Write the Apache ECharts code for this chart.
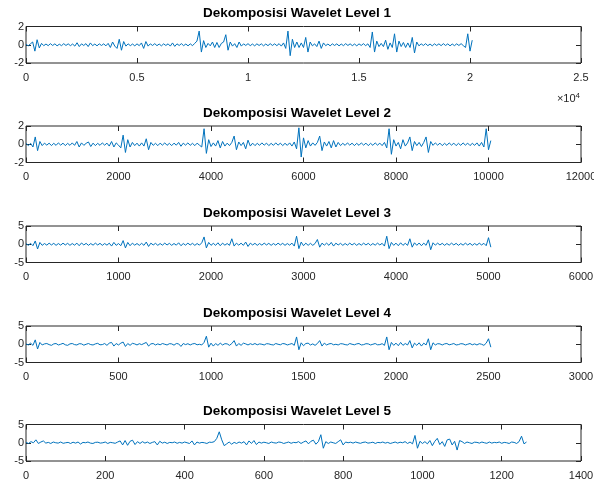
<!DOCTYPE html>
<html><head><meta charset="utf-8">
<script src="https://cdn.jsdelivr.net/npm/echarts@6/dist/echarts.min.js"></script>
<style>html,body{margin:0;padding:0;background:#fff}#c{width:594px;height:483px}</style>
</head><body><div id="c"></div>
<script>
// ---- data ----
const titles = ['Dekomposisi Wavelet Level 1','Dekomposisi Wavelet Level 2','Dekomposisi Wavelet Level 3','Dekomposisi Wavelet Level 4','Dekomposisi Wavelet Level 5'];
const sampleStep = [100, 50, 25, 12.5, 6.25];
const xMax = [25000, 12000, 6000, 3000, 1400];
const xInterval = [5000, 2000, 1000, 500, 200];
const yLimit = [2, 2, 5, 5, 5];
const xExponentLabel = '×10';
const xExponent = '4';

const level1 = [
0.05,-0.12,0.1,0.3,-0.7,0.55,-0.35,0.15,-0.1,0.08,
-0.1,0.12,-0.08,0.1,-0.12,0.06,-0.1,0.12,-0.08,0.1,
-0.1,0.08,-0.15,0.22,-0.2,0.1,-0.08,0.12,-0.2,0.2,
-0.1,0.08,-0.12,0.1,-0.08,0.1,-0.12,0.15,-0.3,0.3,
-0.15,-0.4,0.6,-0.6,0.35,-0.15,0.1,-0.1,0.08,-0.12,
0.1,-0.1,0.2,-0.4,0.35,-0.15,0.1,-0.08,0.12,-0.1,
0.08,-0.12,0.1,-0.08,0.1,-0.15,0.2,-0.18,0.1,-0.08,
0.12,-0.1,0.08,-0.12,0.1,-0.1,0.15,0.4,1.5,-0.8,
0.45,-0.3,0.15,-0.12,0.3,-0.3,0.25,-0.3,0.15,0.3,
1.1,-0.6,0.3,-0.15,0.12,-0.3,0.3,-0.15,0.1,-0.08,
0.12,-0.1,0.08,-0.12,0.1,-0.08,0.1,-0.12,0.08,-0.1,
0.12,-0.08,0.1,-0.1,0.12,-0.15,0.2,-0.4,1.5,-1.2,
0.6,-0.3,0.3,-0.3,0.2,-0.3,0.8,-0.8,0.3,-0.12,
0.1,-0.2,0.4,-0.4,0.2,-0.1,0.08,-0.12,0.1,-0.08,
0.1,-0.12,0.08,-0.1,0.12,-0.08,0.1,-0.1,0.08,-0.12,
0.1,-0.08,0.12,-0.1,0.1,-0.3,1.4,-0.8,0.4,-0.2,
0.15,-0.2,0.5,-0.5,0.2,-0.3,1.2,-0.8,0.4,-0.2,
0.25,-0.3,0.2,-0.3,0.8,-0.9,0.3,-0.12,0.1,-0.08,
0.12,-0.1,0.08,-0.12,0.1,-0.08,0.1,-0.1,0.12,-0.08,
0.1,-0.12,0.08,-0.1,0.1,-0.08,0.12,-0.1,-0.3,1.2,
-0.7,0.5];

const level2 = [
0.1,-0.15,0.1,-0.3,0.8,-0.7,0.3,-0.15,0.12,-0.1,
0.12,-0.15,0.1,-0.12,0.15,-0.1,0.12,-0.15,0.1,-0.12,
0.15,-0.12,0.3,-0.3,0.15,-0.12,0.1,0.25,-0.25,0.12,
-0.15,0.1,-0.12,0.15,-0.1,0.12,-0.2,0.3,-0.3,0.15,
-0.1,-0.4,1.0,-0.9,0.5,-0.3,0.2,-0.15,0.12,-0.2,
0.15,-0.2,0.6,-0.6,0.2,-0.12,0.1,-0.15,0.12,-0.1,
0.15,-0.12,0.1,-0.15,0.12,-0.1,0.2,-0.22,0.12,-0.1,
0.15,-0.12,0.1,-0.15,0.12,-0.1,-0.3,1.7,-1.0,0.5,
-0.25,0.15,-0.2,0.4,-0.4,0.3,-0.2,0.12,-0.15,0.2,
0.9,-0.6,0.25,-0.15,0.2,-0.5,0.45,-0.2,0.12,-0.15,
0.1,-0.12,0.15,-0.1,0.12,-0.15,0.1,-0.12,0.15,-0.1,
0.12,-0.15,0.1,-0.12,0.15,-0.2,0.25,-0.5,1.8,-1.4,
0.7,-0.4,0.4,-0.2,0.15,-0.12,0.2,0.9,-0.7,0.25,
-0.2,0.3,-0.4,0.4,-0.3,0.2,-0.15,0.1,-0.12,0.15,
-0.1,0.12,-0.15,0.1,-0.12,0.15,-0.1,0.12,-0.15,0.1,
-0.12,0.15,-0.1,0.12,-0.15,0.2,-0.4,1.7,-1.1,0.5,
-0.2,0.2,-0.5,0.5,-0.2,0.15,0.8,-0.7,0.3,-0.15,
0.2,-0.25,0.2,0.8,-0.9,0.3,-0.12,0.15,-0.1,0.12,
-0.15,0.1,-0.12,0.15,-0.1,0.12,-0.15,0.1,-0.12,0.15,
-0.1,0.12,-0.15,0.1,-0.12,0.15,-0.2,0.2,-0.3,1.7,
-0.6,0.4];

const level3 = [
0.2,-0.3,0.25,-0.4,0.9,-1.3,0.5,-0.3,0.2,-0.25,
0.3,-0.2,0.25,-0.3,0.2,-0.25,0.3,-0.2,0.25,-0.3,
0.2,-0.25,0.3,-0.4,0.35,-0.2,0.25,-0.3,0.2,-0.25,
0.3,-0.2,0.25,-0.3,0.2,-0.25,0.3,-0.5,0.5,-0.3,
0.2,-0.4,1.0,-1.0,0.5,-0.4,0.3,-0.25,0.2,-0.3,
0.25,-0.3,0.6,-0.6,0.3,-0.2,0.25,-0.3,0.2,-0.25,
0.3,-0.2,0.25,-0.3,0.2,-0.25,0.4,-0.4,0.2,-0.25,
0.3,-0.2,0.25,-0.3,0.2,-0.25,0.4,2.0,-1.0,0.5,
-0.3,0.25,-0.3,0.4,-0.4,0.3,-0.25,0.2,-0.3,1.5,
-0.5,0.3,-0.25,0.3,-0.3,0.6,-0.6,0.3,-0.2,0.25,
-0.3,0.2,-0.25,0.3,-0.2,0.25,-0.3,0.2,-0.25,0.3,
-0.2,0.25,-0.3,0.2,-0.25,0.3,-0.5,2.2,-1.2,0.6,
-0.4,0.3,-0.3,0.25,-0.3,0.2,1.3,-0.8,0.3,-0.25,
0.3,-0.3,0.5,-0.5,0.3,-0.2,0.25,-0.3,0.2,-0.25,
0.3,-0.2,0.25,-0.3,0.2,-0.25,0.3,-0.2,0.25,-0.3,
0.2,-0.25,0.3,-0.2,0.25,-0.5,2.2,-1.2,0.5,-0.3,
0.3,-0.4,0.4,-0.3,0.25,-0.3,1.5,-0.8,0.4,-0.3,
0.35,-0.4,0.3,-0.3,1.2,-1.5,0.4,-0.25,0.3,-0.2,
0.25,-0.3,0.2,-0.25,0.3,-0.2,0.25,-0.3,0.2,-0.25,
0.3,-0.2,0.25,-0.3,0.2,-0.25,0.3,-0.2,0.25,-0.4,
1.8,-0.8];

const level4 = [
0.1,-0.2,0.3,-0.3,1.2,-1.3,0.5,-0.2,0.1,0.2,
-0.1,-0.3,0.1,0.2,-0.2,0.0,0.25,-0.15,-0.3,0.1,
0.2,-0.1,-0.2,0.15,0.1,-0.25,0.0,0.2,-0.1,-0.2,
0.1,0.25,-0.15,-0.1,0.2,-0.3,0.3,0.5,-0.5,0.2,
-0.2,0.3,0.6,-0.6,0.2,-0.3,0.25,0.1,-0.2,0.15,
-0.1,0.2,0.5,-0.5,0.1,0.2,-0.2,0.1,-0.15,0.2,
0.0,-0.2,0.15,0.1,-0.25,0.2,0.1,-0.6,0.2,-0.1,
0.15,-0.2,0.1,0.2,-0.15,0.0,-0.2,0.5,2.2,-0.8,
0.3,-0.5,0.2,-0.3,0.3,-0.2,0.15,0.1,-0.3,0.2,
1.0,-0.5,0.2,-0.3,0.3,0.1,-0.2,0.15,-0.1,0.2,
-0.15,0.1,0.0,-0.2,0.15,0.1,-0.1,-0.2,0.2,0.0,
-0.15,0.2,0.1,-0.2,0.0,0.2,-0.3,2.0,-1.5,0.4,
-0.4,0.2,0.3,-0.2,0.1,-0.3,0.2,1.0,-0.5,0.3,
-0.2,0.1,0.2,-0.15,0.0,-0.2,0.15,0.1,-0.1,-0.2,
0.2,0.0,-0.15,0.1,0.2,-0.2,-0.1,0.15,0.1,-0.2,
0.0,0.2,-0.15,-0.1,0.15,-0.3,2.0,-1.5,0.5,-0.3,
0.3,-0.4,0.5,-0.3,0.2,-0.2,1.0,-1.0,0.3,-0.3,
0.4,-0.5,0.3,-0.2,1.5,-1.5,0.4,-0.2,0.15,0.1,
-0.2,0.1,0.2,-0.15,0.0,0.2,-0.2,-0.1,0.15,0.1,
-0.2,0.0,0.2,-0.15,0.1,-0.2,0.15,0.0,-0.3,0.3,
1.5,-0.8];

const level5 = [
0.1,-0.2,0.3,0.0,0.8,-0.2,0.2,0.5,-0.1,0.1,
-0.2,0.2,0.0,-0.1,0.2,-0.15,0.0,0.1,-0.2,0.15,
-0.1,0.2,-0.35,0.1,0.0,0.2,-0.1,-0.2,0.1,0.15,
-0.1,0.0,0.2,-0.2,0.1,0.0,-0.15,0.2,0.5,-0.6,
0.6,-0.7,0.4,0.7,-0.5,0.3,-0.2,0.3,-0.1,0.2,
-0.2,0.1,0.3,-0.6,0.4,-0.1,0.15,-0.2,0.1,0.0,
0.2,-0.15,0.1,-0.1,0.2,0.0,-0.2,0.5,-0.6,0.2,
-0.1,0.1,0.0,-0.2,0.15,0.1,0.3,1.2,3.0,0.8,
-0.8,-0.3,0.2,-0.4,0.1,-0.2,0.2,-0.1,0.3,-0.6,
0.5,-0.2,0.6,-0.5,0.2,-0.1,0.15,0.0,-0.2,0.2,
0.0,-0.1,0.2,0.1,-0.2,0.0,0.2,-0.15,0.1,0.0,
0.3,-0.2,0.2,0.5,-0.3,0.4,0.7,-0.4,0.3,2.2,
-1.5,0.3,-0.2,0.2,0.0,-0.2,0.3,0.8,-0.6,0.2,
0.0,0.15,-0.1,0.2,0.0,-0.15,0.1,0.2,-0.1,0.0,
0.15,-0.2,0.1,0.0,0.2,-0.1,0.1,-0.2,0.0,0.2,
-0.1,0.15,0.0,0.3,-0.2,0.2,-0.3,2.0,-1.5,0.4,
-0.2,0.3,-0.3,0.6,-0.8,0.4,1.2,-0.5,0.3,-1.0,
0.8,1.0,-0.6,0.4,-2.0,0.6,0.3,-0.2,0.2,0.0,
-0.2,0.15,0.1,-0.1,0.2,0.0,-0.15,0.2,-0.1,0.1,
0.0,0.2,-0.15,0.1,0.0,-0.2,0.2,0.1,-0.2,0.3,
1.8,-0.3,0.2];

const levels = [level1, level2, level3, level4, level5];

// ---- layout ----
const FONT = '"Liberation Sans", Arial, Helvetica, sans-serif';
const AX = '#262626';
const gridTops = [26.5, 126, 226, 326, 424.5];
const gridH = 36.5;
const gridLeft = 26, gridRight = 13;

const chart = echarts.init(document.getElementById('c'), null, {renderer: 'canvas'});
const grid = [], xAxis = [], yAxis = [], series = [], title = [];
levels.forEach((vals, i) => {
  grid.push({left: gridLeft, right: gridRight, top: gridTops[i], height: gridH,
    outerBoundsMode: 'none', containLabel: false,
    show: true, borderColor: AX, borderWidth: 1, backgroundColor: '#fff'});
  title.push({text: titles[i], left: 'center', top: gridTops[i] - 20, padding: 0,
    textStyle: {fontFamily: FONT, fontSize: 13.5, fontWeight: 'bold', color: '#000'}});
  const xCommon = {type: 'value', gridIndex: i, min: 0, max: xMax[i], interval: xInterval[i],
    splitLine: {show: false}, axisLine: {show: false, onZero: false}};
  xAxis.push(Object.assign({}, xCommon, {position: 'bottom',
    axisTick: {show: true, inside: true, length: 5, lineStyle: {color: AX}},
    axisLabel: {show: true, margin: 9, color: AX, fontFamily: FONT, fontSize: 11,
      showMinLabel: true, showMaxLabel: true, hideOverlap: false,
      formatter: v => i === 0 ? String(v / 10000) : String(v)}}));
  xAxis.push(Object.assign({}, xCommon, {position: 'top',
    axisTick: {show: true, inside: true, length: 5, lineStyle: {color: AX}},
    axisLabel: {show: false}}));
  const yCommon = {type: 'value', gridIndex: i, min: -yLimit[i], max: yLimit[i], interval: yLimit[i],
    splitLine: {show: false}, axisLine: {show: false, onZero: false}};
  yAxis.push(Object.assign({}, yCommon, {position: 'left',
    axisTick: {show: true, inside: true, length: 5, lineStyle: {color: AX}},
    axisLabel: {show: true, margin: 2, color: AX, fontFamily: FONT, fontSize: 11,
      showMinLabel: true, showMaxLabel: true, hideOverlap: false}}));
  yAxis.push(Object.assign({}, yCommon, {position: 'right',
    axisTick: {show: true, inside: true, length: 5, lineStyle: {color: AX}},
    axisLabel: {show: false}}));
  series.push({type: 'line', xAxisIndex: 2 * i, yAxisIndex: 2 * i, showSymbol: false,
    sampling: null, animation: false, silent: true,
    lineStyle: {color: '#0072BD', width: 1}, data: vals.map((v, k) => [k * sampleStep[i], v])});
});

chart.setOption({
  animation: false,
  backgroundColor: '#fff',
  title, grid, xAxis, yAxis, series,
  graphic: [{type: 'text', right: 14, top: 92,
    style: {text: '{a|' + xExponentLabel + '}{b|' + xExponent + '}',
      rich: {a: {fontFamily: FONT, fontSize: 11, fill: AX},
             b: {fontFamily: FONT, fontSize: 8, fill: AX, verticalAlign: 'top', padding: [0, 0, 6, 0]}}}}]
});
</script></body></html>
